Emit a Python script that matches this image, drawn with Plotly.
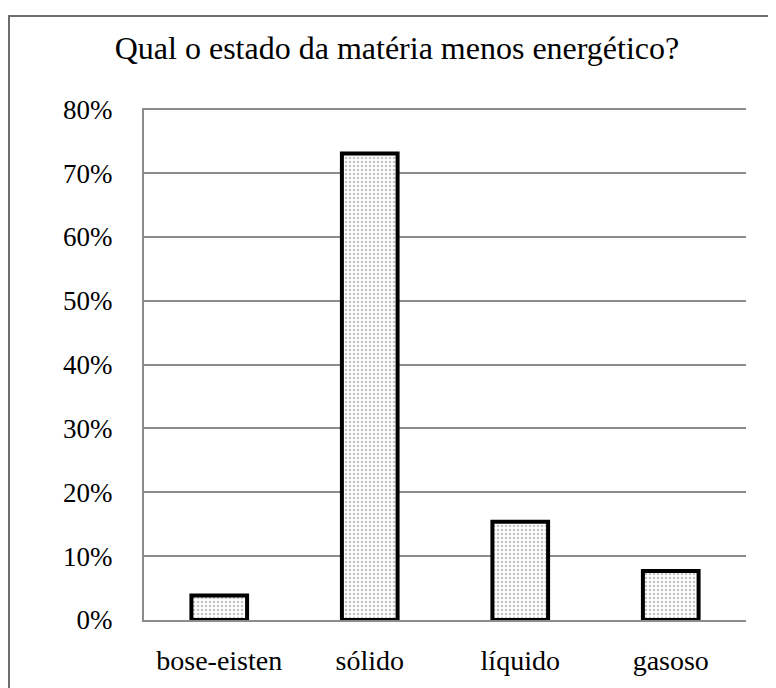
import plotly.graph_objects as go

categories = ["bose-eisten", "sólido", "líquido", "gasoso"]
values_pct = [3.85, 73.08, 15.38, 7.69]
y_tickvals = [0, 10, 20, 30, 40, 50, 60, 70, 80]
y_ticktext = ["0%", "10%", "20%", "30%", "40%", "50%", "60%", "70%", "80%"]
title_text = "Qual o estado da matéria menos energético?"

# page has an 8px body margin, so the figure is placed at (8, 8)
OFF = 8
W, H = 768, 680
ML, MT = 144 - OFF, 108 - OFF
MR = W - (746 - OFF)
MB = H - (625 - OFF)
pw, ph = W - ML - MR, H - MT - MB

fig = go.Figure()
fig.add_trace(go.Bar(
    x=categories, y=values_pct, width=0.37,
    marker=dict(color="white",
                line=dict(color="black", width=4),
                pattern=dict(shape=".", fgcolor="#8a8a8a", bgcolor="white", size=4, solidity=0.35)),
    hoverinfo="skip",
))

# outer chart border (extends beyond the bottom/right edges)
fig.add_shape(type="rect", xref="paper", yref="paper",
              x0=(1 - ML) / pw, x1=(790 - ML) / pw,
              y0=-(720 - (H - MB)) / ph, y1=((H - MB) - 7) / ph,
              line=dict(color="#6e6e6e", width=2), fillcolor="rgba(0,0,0,0)", layer="above")

fig.update_layout(
    width=W, height=H,
    margin=dict(l=ML, r=MR, t=MT, b=MB),
    paper_bgcolor="white", plot_bgcolor="white",
    showlegend=False,
    title=dict(text=title_text, x=(397 - OFF) / W, xanchor="center", y=1 - (48 - OFF) / H, yanchor="middle",
               font=dict(family="Liberation Serif", size=32, color="black")),
    font=dict(family="Liberation Serif", size=27, color="black"),
)
fig.update_xaxes(showline=True, linecolor="#8c8c8c", linewidth=2, showgrid=False,
                 ticks="", tickfont=dict(size=28), ticklabelstandoff=14)
fig.update_yaxes(range=[0, 80.2], tickvals=y_tickvals, ticktext=y_ticktext,
                 showgrid=True, gridcolor="#8c8c8c", gridwidth=1.5,
                 showline=True, linecolor="#8c8c8c", linewidth=2,
                 zeroline=False, ticks="", tickfont=dict(size=27), ticklabelstandoff=24)

fig.write_html("out.html")
